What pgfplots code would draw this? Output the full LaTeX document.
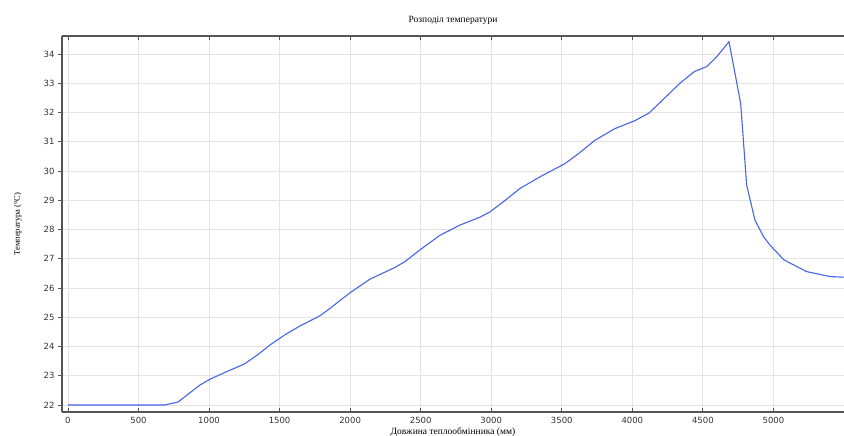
\documentclass[border=0pt]{standalone}
\usepackage{fontspec}
\setmainfont{Liberation Serif}
\newfontfamily\tickfont{DejaVu Sans}
\usepackage{pgfplots}
\pgfplotsset{compat=1.18}
\definecolor{curve}{RGB}{72,100,232}
\definecolor{gridc}{RGB}{228,228,228}
\definecolor{axc}{RGB}{85,85,85}
\begin{document}
\begin{tikzpicture}
\useasboundingbox (-62pt,-24pt) rectangle (782pt,412pt);
\begin{axis}[
  scale only axis, width=782pt, height=376pt,
  xmin=-42, xmax=5500, ymin=21.76, ymax=34.615,
  axis x line*=box, axis y line*=left,
  axis line style={axc, line width=1.3pt},
  xtick={0,500,...,5000}, ytick={22,...,34},
  grid=major, major grid style={gridc, line width=0.8pt},
  tick style={axc, line width=0.8pt}, major tick length=4pt,
  ytick align=outside,
  ticklabel style={font=\tickfont\fontsize{8.5}{10}\selectfont, text=black!80},
  /pgf/number format/assume math mode=true,
  /pgf/number format/1000 sep={},
  xticklabel shift=2pt, yticklabel shift=0pt,
  title={Розподіл температури}, title style={font=\fontsize{9.5}{10}\selectfont, at={(axis description cs:0.5,1.0426)}, anchor=center, yshift=-6pt},
  xlabel={Довжина теплообмінника (мм)}, xlabel style={font=\fontsize{9.5}{10}\selectfont, at={(axis description cs:0.5,0)}, anchor=center, yshift=-20pt},
  ylabel={Температура (°C)}, ylabel style={font=\fontsize{8.5}{10}\selectfont, at={(axis description cs:-0.0563,0.5)}, anchor=center},
  clip=true,
]
\addplot[curve, line width=1.1pt] coordinates {
(0,22.0) (687,22.0) (780,22.1) (860,22.4) (935,22.68) (1006,22.88)
(1130,23.15) (1250,23.4) (1340,23.7) (1432,24.05) (1538,24.4) (1644,24.7)
(1786,25.05) (1857,25.3) (1930,25.58) (2006,25.86) (2140,26.3) (2317,26.7)
(2388,26.9) (2494,27.3) (2636,27.8) (2778,28.15) (2920,28.42) (2990,28.6)
(3100,29.0) (3203,29.4) (3345,29.8) (3522,30.25) (3620,30.6) (3735,31.05)
(3877,31.45) (4018,31.72) (4118,31.98) (4230,32.5) (4337,33.0) (4440,33.4)
(4527,33.57) (4597,33.9) (4685,34.42) (4768,32.3) (4810,29.52) (4869,28.32)
(4930,27.75) (4975,27.47) (5074,26.96) (5235,26.56) (5400,26.39) (5500,26.37)
};
\end{axis}
\end{tikzpicture}
\end{document}
